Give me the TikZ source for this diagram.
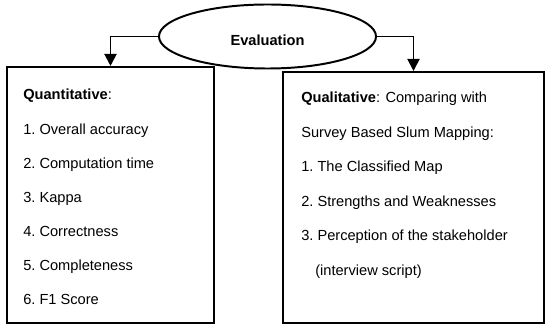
\documentclass[tikz,border=0pt]{standalone}
\usepackage{fontspec}
\setmainfont{Liberation Sans}
\usetikzlibrary{arrows.meta,shapes.geometric}
\tikzset{
  frame/.style={draw, line width=1.4pt, rectangle, inner sep=0pt},
  itemtext/.style={anchor=base west, inner sep=0pt, font=\fontsize{10.4}{12}\selectfont},
  flow/.style={line width=1.4pt, -{Triangle[length=0.3cm, width=0.3cm]}}
}

\begin{document}
\begin{tikzpicture}[x=0.025cm, y=-0.025cm, line join=miter]
\useasboundingbox (0,0) rectangle (550,327);

% ============ TOP: evaluation ellipse ============
% text height set so the label sits a little below the ellipse centre
\node[draw, line width=1.4pt, ellipse, minimum width=5.425cm, minimum height=1.6cm, inner sep=0pt,
      text height=13pt, text depth=0pt,
      font=\fontsize{10.4}{12}\selectfont\bfseries] (eval) at (267.5,36.5) {Evaluation};

% ============ BOXES ============
\node[frame, minimum width=5.175cm, minimum height=6.4cm] (quant) at (110.5,195) {};
\node[frame, minimum width=6.525cm, minimum height=6.275cm] (qual) at (413.5,197.5) {};

% connectors
\draw[flow] (eval.west) -| (quant.north);
\draw[flow] (eval.east) -| (qual.north);

% ---- left box: quantitative measures ----
\node[itemtext] (quanthead) at (23,100) {\textbf{Quantitative}:};
\foreach \txt [count=\i] in {Overall accuracy, Computation time, Kappa, Correctness, Completeness, F1 Score}
  \node[itemtext] (quant\i) at (23,100+34.1*\i) {\i.~\txt};

% ---- right box: qualitative comparison ----
\node[itemtext] (qualhead) at (301,103) {\textbf{Qualitative}: Comparing with};
\node[itemtext] (qualsub) at (301,137.4) {Survey Based Slum Mapping:};
\foreach \txt [count=\i] in {The Classified Map, Strengths and Weaknesses, Perception of the stakeholder}
  \node[itemtext] (qual\i) at (301,137.4+34.4*\i) {\i.~\txt};
\node[itemtext] (qualnote) at (315,275) {(interview script)};
\end{tikzpicture}
\end{document}
